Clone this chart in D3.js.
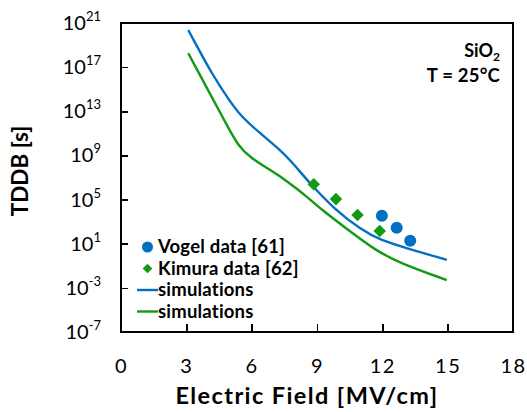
<!DOCTYPE html>
<meta charset="utf-8">
<style>
body { margin: 0; background: #fff; font-family: Lato, sans-serif; }
.axis path, .axis line { stroke: #000; stroke-width: 1.5; shape-rendering: crispEdges; }
.axis text { font-family: Lato, sans-serif; font-size: 20px; fill: #000; letter-spacing: 1.5px; }
</style>
<body>
<script src="https://cdn.jsdelivr.net/npm/d3@7"></script>
<script>

// electric field [MV/cm] and TDDB [s]
var blueX = [3.09, 4.24, 5.0, 5.46, 6.3, 7.22, 7.84, 8.6, 9.83, 11.05, 11.89, 13.12, 14.96];
var blueY = [2.3e20, 1.35e16, 8.5e13, 4.6e12, 1.4e11, 4.5e9, 2.7e8, 4.2e6, 1.15e4, 174, 22, 3.9, 0.34];
var greenX = [3.09, 4.24, 4.78, 5.39, 6.0, 6.61, 7.22, 7.84, 8.45, 9.22, 10.44, 11.66, 12.81, 14.96];
var greenY = [1.8e18, 1.05e14, 1.15e12, 6.2e9, 5.5e8, 9.5e7, 1.7e7, 2.1e6, 2.6e5, 1.15e4, 174, 2.7, 0.17, 0.0051];
var kimuraX = [8.85, 9.87, 10.86, 11.88];
var kimuraY = [2.5e6, 1.1e5, 4.0e3, 145];
var vogelX = [11.98, 12.66, 13.28];
var vogelY = [3.4e3, 285, 19];

var xTicks = [0, 3, 6, 9, 12, 15, 18];
var yExps = [-7, -3, 1, 5, 9, 13, 17, 21];
var legendLabels = ["Vogel data [61]", "Kimura data [62]", "simulations", "simulations"];

var blue = "#0070c0", green = "#139a13";

var W = 527, H = 412;
var margin = {top: 23, right: 14, bottom: 80, left: 121};
var x = d3.scaleLinear().domain([0, 18]).range([margin.left, W - margin.right]);
var y = d3.scaleLog().domain([1e-7, 1e21]).range([H - margin.bottom, margin.top]);

var svg = d3.select("body").append("svg")
  .attr("width", W)
  .attr("height", H);

// frame
svg.append("rect")
  .attr("x", x(0)).attr("y", y(1e21))
  .attr("width", x(18) - x(0)).attr("height", y(1e-7) - y(1e21))
  .attr("fill", "none").attr("stroke", "#000").attr("stroke-width", 1.5)
  .style("shape-rendering", "crispEdges");

// x axis, ticks inward
var gx = svg.append("g").attr("class", "axis")
  .attr("transform", "translate(0," + y(1e-7) + ")")
  .call(d3.axisBottom(x).tickValues(xTicks).tickSize(-8).tickPadding(27).tickFormat(d3.format("d")));
gx.select(".domain").remove();

// y axis, ticks inward, 10^n labels
var gy = svg.append("g").attr("class", "axis")
  .attr("transform", "translate(" + x(0) + ",0)")
  .call(d3.axisLeft(y).tickValues(yExps.map(function(e){ return Math.pow(10, e); })).tickSize(-7).tickFormat(""));
gy.select(".domain").remove();

svg.append("g").selectAll("text")
  .data(yExps)
  .enter().append("text")
    .attr("x", 101)
    .attr("y", function(d){ return y(Math.pow(10, d)) + 7; })
    .attr("text-anchor", "end")
    .style("font-size", "20px")
    .each(function(d){
      var t = d3.select(this);
      t.append("tspan").text("10");
      t.append("tspan").attr("dy", -9).style("font-size", "13px").text(d);
    });

// axis titles
svg.append("text")
  .attr("x", 307).attr("y", 404)
  .attr("text-anchor", "middle")
  .style("font-size", "23.5px").style("font-weight", "bold").style("letter-spacing", "1.4px")
  .text("Electric Field [MV/cm]");

svg.append("text")
  .attr("transform", "translate(28,171) rotate(-90)")
  .attr("text-anchor", "middle")
  .style("font-size", "22.5px").style("font-weight", "bold")
  .text("TDDB [s]");

// annotation
svg.append("text")
  .attr("x", 500).attr("y", 57)
  .attr("text-anchor", "end")
  .style("font-size", "18px").style("font-weight", "bold")
  .html('SiO<tspan dy="4" font-size="12px">2</tspan>');
svg.append("text")
  .attr("x", 500).attr("y", 82)
  .attr("text-anchor", "end")
  .style("font-size", "18.5px").style("font-weight", "bold").style("letter-spacing", "0.2px")
  .text("T = 25°C");

// simulation curves (smoothed like the spreadsheet's smooth lines)
var line = d3.line()
  .x(function(d){ return x(d[0]); })
  .y(function(d){ return y(d[1]); })
  .curve(d3.curveBasis);

svg.append("path")
  .datum(greenX.map(function(v, i){ return [v, greenY[i]]; }))
  .attr("d", line).attr("fill", "none").attr("stroke", green).attr("stroke-width", 2.4);

svg.append("path")
  .datum(blueX.map(function(v, i){ return [v, blueY[i]]; }))
  .attr("d", line).attr("fill", "none").attr("stroke", blue).attr("stroke-width", 2.4);

// measured data
svg.append("g").selectAll("path")
  .data(kimuraX.map(function(v, i){ return [v, kimuraY[i]]; }))
  .enter().append("path")
    .attr("transform", function(d){ return "translate(" + x(d[0]) + "," + y(d[1]) + ")"; })
    .attr("d", d3.symbol().type(d3.symbolDiamond2).size(100))
    .attr("fill", green);

svg.append("g").selectAll("circle")
  .data(vogelX.map(function(v, i){ return [v, vogelY[i]]; }))
  .enter().append("circle")
    .attr("cx", function(d){ return x(d[0]); })
    .attr("cy", function(d){ return y(d[1]); })
    .attr("r", 6)
    .attr("fill", blue);

// legend
var legend = svg.append("g");
var rowsY = [247, 268.5, 290, 311.5];
legend.append("circle").attr("cx", 147.5).attr("cy", rowsY[0]).attr("r", 5.5).attr("fill", blue);
legend.append("path")
  .attr("transform", "translate(147.5," + rowsY[1] + ")")
  .attr("d", d3.symbol().type(d3.symbolDiamond2).size(60))
  .attr("fill", green);
legend.append("line").attr("x1", 137).attr("x2", 158).attr("y1", rowsY[2]).attr("y2", rowsY[2])
  .attr("stroke", blue).attr("stroke-width", 2.4);
legend.append("line").attr("x1", 137).attr("x2", 158).attr("y1", rowsY[3]).attr("y2", rowsY[3])
  .attr("stroke", green).attr("stroke-width", 2.4);
legend.selectAll("text")
  .data(legendLabels)
  .enter().append("text")
    .attr("x", 158)
    .attr("y", function(d, i){ return rowsY[i] + 6; })
    .style("font-size", "18.5px").style("font-weight", "bold").style("letter-spacing", "0.2px")
    .text(function(d){ return d; });

</script>
